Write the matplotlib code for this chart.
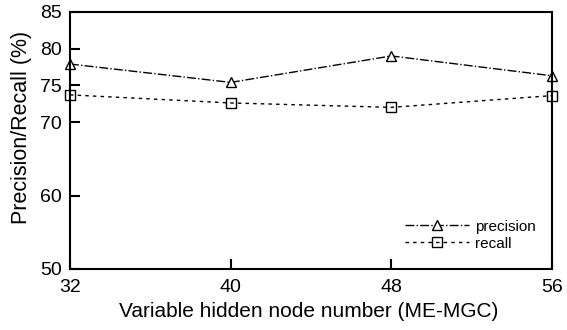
import matplotlib
matplotlib.use('Agg')
import matplotlib.pyplot as plt

plt.rcParams['font.family'] = ['Liberation Sans', 'DejaVu Sans']

hidden_nodes = [32, 40, 48, 56]
precision = [77.9, 75.4, 79.0, 76.3]
recall = [73.7, 72.6, 72.0, 73.6]
x_ticks = [32, 40, 48, 56]
y_ticks = [50, 60, 70, 75, 80, 85]

fig = plt.figure(figsize=(5.67, 3.3), dpi=100)
ax = fig.add_axes([0.1235, 0.185, 0.85, 0.779])

ax.plot(hidden_nodes, precision, color='black', linestyle='-.', linewidth=1.0,
        marker='^', markersize=7, markerfacecolor='white', markeredgecolor='black',
        markeredgewidth=1.0, label='precision', clip_on=False)
ax.plot(hidden_nodes, recall, color='black', linestyle=(0, (2.5, 3)), linewidth=1.0,
        marker='s', markersize=7, markerfacecolor='none', markeredgecolor='black',
        markeredgewidth=1.0, label='recall', clip_on=False)

ax.set_xlim(32, 56)
ax.set_ylim(50, 85)
ax.set_xticks(x_ticks)
ax.set_yticks(y_ticks)
ax.tick_params(direction='in', length=7, width=1.5, labelsize=14)
ax.tick_params(axis='x', pad=7)
ax.tick_params(axis='y', pad=6)
for s in ax.spines.values():
    s.set_linewidth(1.5)

ax.set_xlabel('Variable hidden node number (ME-MGC)', fontsize=15)
ax.set_ylabel('Precision/Recall (%)', fontsize=15.5)
ax.xaxis.set_label_coords(0.495, -0.128)
ax.yaxis.set_label_coords(-0.079, 0.55)

ax.legend(loc='lower right', bbox_to_anchor=(0.995, 0.018), frameon=False, fontsize=11,
          handlelength=4.2, handletextpad=0.4, labelspacing=0.2)

fig.savefig('out.png', dpi=100)
